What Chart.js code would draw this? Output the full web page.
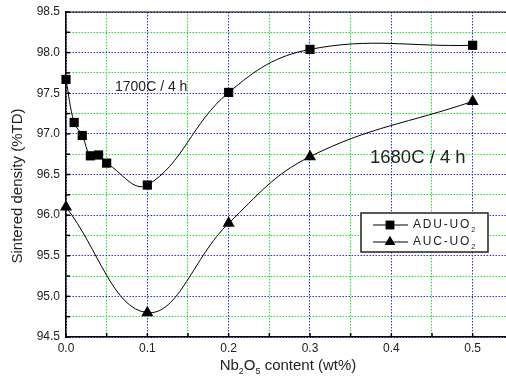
<!DOCTYPE html>
<html>
<head>
<meta charset="utf-8">
<script src="https://cdn.jsdelivr.net/npm/chart.js@4"></script>
<style>
  html, body { margin: 0; padding: 0; background: #fff; overflow: hidden; }
  #wrap { width: 506px; height: 385px; overflow: hidden; }
</style>
</head>
<body>
<div id="wrap"><canvas id="myChart" width="513" height="385"></canvas></div>
<script>
// data
var aduX = [0, 0.01, 0.02, 0.03, 0.04, 0.05, 0.1, 0.2, 0.3, 0.5];
var aduY = [97.67, 97.14, 96.98, 96.73, 96.74, 96.64, 96.37, 97.51, 98.04, 98.09];
var aucX = [0, 0.1, 0.2, 0.3, 0.5];
var aucY = [96.1, 94.8, 95.9, 96.72, 97.4];
var xTicks = [0, 0.05, 0.1, 0.15, 0.2, 0.25, 0.3, 0.35, 0.4, 0.45, 0.5];
var yTicks = [94.5, 94.75, 95, 95.25, 95.5, 95.75, 96, 96.25, 96.5, 96.75, 97, 97.25, 97.5, 97.75, 98, 98.25, 98.5];
var seriesNames = ['ADU-UO', 'AUC-UO'];

const FONT = '"Liberation Sans", Arial, sans-serif';

function toPoints(xs, ys) {
  var pts = [];
  for (let i = 0; i < xs.length; i++) pts.push({x: xs[i], y: ys[i]});
  return pts;
}

function isMajor(v, step) {
  var k = v / step;
  return Math.abs(k - Math.round(k)) < 1e-6;
}

// text with subscripts: parts = [[text, isSub], ...]
function drawRich(ctx, parts, x, y, size, align) {
  var w = 0;
  parts.forEach(p => {
    ctx.font = (p[1] ? size * 0.6 : size) + 'px ' + FONT;
    w += ctx.measureText(p[0]).width;
  });
  var cx = align === 'center' ? x - w / 2 : x;
  ctx.textAlign = 'left';
  ctx.textBaseline = 'middle';
  parts.forEach(p => {
    ctx.font = (p[1] ? size * 0.6 : size) + 'px ' + FONT;
    ctx.fillText(p[0], cx, p[1] ? y + size * 0.4 : y);
    cx += ctx.measureText(p[0]).width;
  });
}

function noPad(s) {
  s.paddingTop = 0; s.paddingBottom = 0; s.paddingLeft = 0; s.paddingRight = 0;
}

const extras = {
  id: 'extras',
  afterDraw(chart) {
    const ctx = chart.ctx;
    const a = chart.chartArea;
    const xs = chart.scales.x, ys = chart.scales.y;
    ctx.save();
    // inward ticks
    ctx.strokeStyle = '#000';
    ctx.lineWidth = 1.5;
    xTicks.forEach(v => {
      var px = xs.getPixelForValue(v);
      ctx.beginPath(); ctx.moveTo(px, a.bottom); ctx.lineTo(px, a.bottom - 4); ctx.stroke();
    });
    yTicks.forEach(v => {
      var py = ys.getPixelForValue(v);
      ctx.beginPath(); ctx.moveTo(a.left, py); ctx.lineTo(a.left + 4, py); ctx.stroke();
    });
    // top frame line
    ctx.lineWidth = 1.2;
    ctx.beginPath(); ctx.moveTo(a.left, a.top); ctx.lineTo(a.right, a.top); ctx.stroke();

    ctx.fillStyle = '#222';
    // axis titles
    drawRich(ctx, [['Nb', false], ['2', true], ['O', false], ['5', true], [' content (wt%)', false]], 288, 366, 15, 'center');
    ctx.save();
    ctx.translate(18, 186);
    ctx.rotate(-Math.PI / 2);
    ctx.font = '15px ' + FONT;
    ctx.textAlign = 'center';
    ctx.textBaseline = 'middle';
    ctx.fillText('Sintered density (%TD)', 0, 0);
    ctx.restore();

    // annotations
    ctx.font = '14px ' + FONT;
    ctx.textAlign = 'left';
    ctx.textBaseline = 'middle';
    ctx.fillText('1700C / 4 h', 115, 87);
    ctx.font = '18.5px ' + FONT;
    ctx.fillText('1680C / 4 h', 370, 158);

    // legend box
    ctx.fillStyle = '#fff';
    ctx.fillRect(361, 213, 127, 39);
    ctx.strokeStyle = '#222';
    ctx.lineWidth = 1.5;
    ctx.strokeRect(361, 213, 127, 39);
    var rows = [225, 242];
    var styles = ['rect', 'triangle'];
    rows.forEach((ry, i) => {
      ctx.strokeStyle = '#000';
      ctx.lineWidth = 1;
      ctx.beginPath(); ctx.moveTo(373, ry); ctx.lineTo(408, ry); ctx.stroke();
      ctx.fillStyle = '#000';
      Chart.helpers.drawPoint(ctx, {pointStyle: styles[i], radius: 6, rotation: 0, borderWidth: 0}, 390, ry);
      ctx.fill();
      ctx.fillStyle = '#222';
      ctx.letterSpacing = '1.8px';
      drawRich(ctx, [[seriesNames[i], false], ['2', true]], 413, ry, 12, 'left');
      ctx.letterSpacing = '0px';
    });
    ctx.restore();
  }
};

const gridColor = (major, minor) => c => (c.tick && isMajor(c.tick.value, c.scale.id === 'x' ? 0.1 : 0.5)) ? major : minor;

const ctx = document.getElementById('myChart');
const myChart = new Chart(ctx, {
  type: 'scatter',
  data: {
    datasets: [{
      label: seriesNames[0],
      data: toPoints(aduX, aduY),
      showLine: true,
      tension: 0.4,
      borderColor: '#000',
      borderWidth: 1,
      backgroundColor: '#000',
      pointStyle: 'rect',
      pointRadius: 6.5,
      pointBorderWidth: 0,
      clip: false
    }, {
      label: seriesNames[1],
      data: toPoints(aucX, aucY),
      showLine: true,
      tension: 0.4,
      borderColor: '#000',
      borderWidth: 1,
      backgroundColor: '#000',
      pointStyle: 'triangle',
      pointRadius: 7,
      pointBorderWidth: 0,
      clip: false
    }]
  },
  options: {
    responsive: false,
    animation: false,
    events: [],
    layout: { padding: { top: 12, right: 0, left: 0, bottom: 0 } },
    plugins: { legend: { display: false }, tooltip: { enabled: false } },
    scales: {
      x: {
        type: 'linear',
        min: 0,
        max: 0.541,
        afterBuildTicks: s => { s.ticks = xTicks.map(v => ({value: v})); },
        afterFit: s => { s.height = 48; noPad(s); },
        ticks: {
          color: '#222',
          font: { family: FONT, size: 12 },
          padding: 4,
          maxRotation: 0,
          callback: v => isMajor(v, 0.1) ? v.toFixed(1) : ''
        },
        grid: {
          color: gridColor('#2a2af0', '#22e022'),
          lineWidth: 1,
          drawTicks: false
        },
        border: { display: true, color: '#000', width: 1.5, dash: [1.5, 1.5] }
      },
      y: {
        type: 'linear',
        min: 94.5,
        max: 98.5,
        afterBuildTicks: s => { s.ticks = yTicks.map(v => ({value: v})); },
        afterFit: s => { s.width = 66; noPad(s); },
        ticks: {
          color: '#222',
          font: { family: FONT, size: 12 },
          padding: 6,
          callback: v => isMajor(v, 0.5) ? v.toFixed(1) : ''
        },
        grid: {
          color: gridColor('#2a2af0', '#22e022'),
          lineWidth: 1,
          drawTicks: false
        },
        border: { display: true, color: '#000', width: 1.5, dash: [1.5, 1.5] }
      }
    }
  },
  plugins: [extras]
});
</script>
</body>
</html>
